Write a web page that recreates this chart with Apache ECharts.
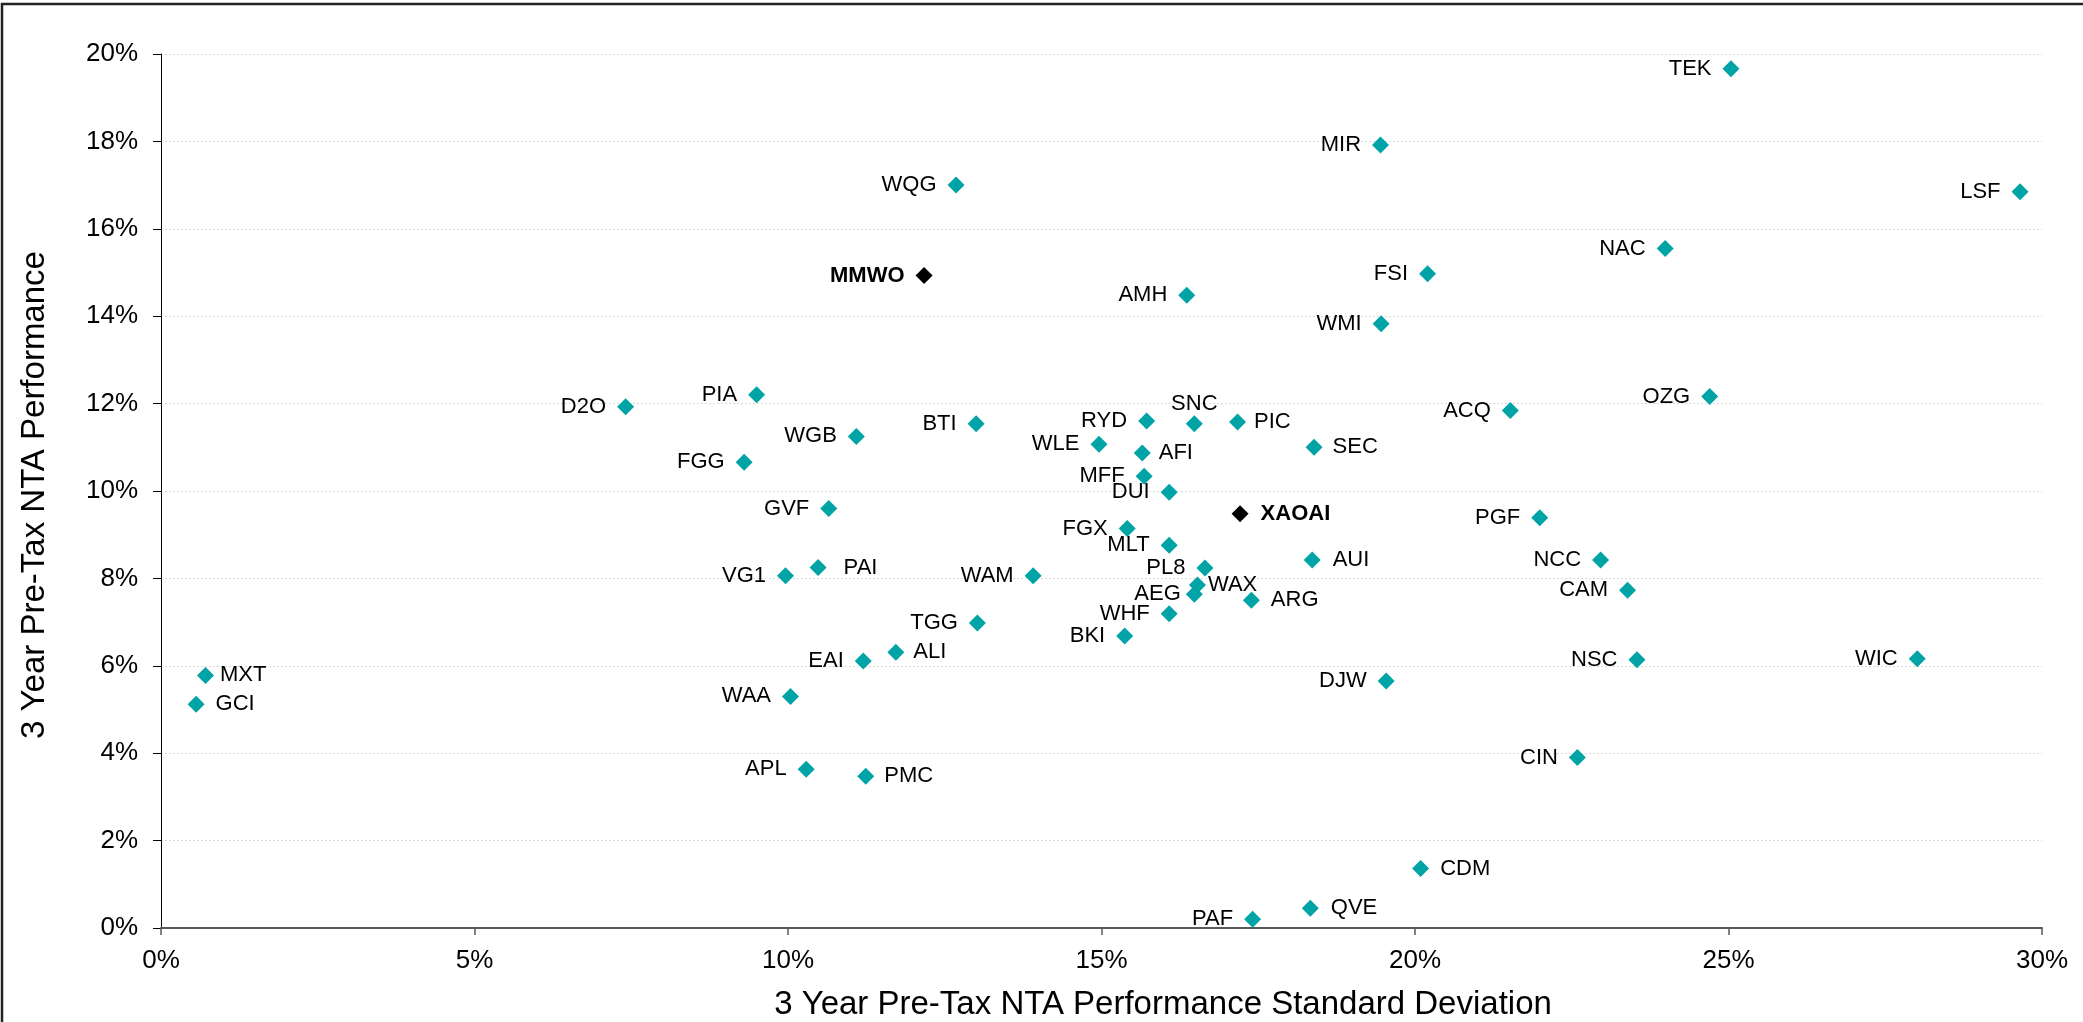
<!DOCTYPE html>
<html>
<head>
<meta charset="utf-8">
<script src="https://cdn.jsdelivr.net/npm/echarts@6/dist/echarts.min.js"></script>
<style>
html,body{margin:0;padding:0;background:#fff;}
#chart{width:2083px;height:1022px;}
</style>
</head>
<body>
<div id="chart"></div>
<script>
// ---- Data ----
const names = ['TEK','MIR','LSF','WQG','NAC','FSI','MMWO','AMH','WMI','OZG','PIA','D2O','ACQ','RYD','PIC','BTI','SNC','WGB','WLE','SEC','AFI','FGG','MFF','DUI','GVF','XAOAI','PGF','FGX','MLT','AUI','NCC','PAI','PL8','VG1','WAM','WAX','CAM','AEG','ARG','WHF','TGG','BKI','ALI','WIC','NSC','EAI','MXT','DJW','WAA','GCI','CIN','APL','PMC','CDM','QVE','PAF'];
const stdDev = [25.04,19.45,29.65,12.68,23.99,20.20,12.17,16.36,19.46,24.70,9.50,7.41,21.52,15.72,17.17,13.00,16.48,11.09,14.96,18.39,15.65,9.30,15.68,16.08,10.65,17.21,21.99,15.41,16.08,18.36,22.96,10.48,16.65,9.96,13.91,16.53,23.39,16.48,17.39,16.08,13.02,15.37,11.72,28.01,23.54,11.20,0.71,19.54,10.04,0.56,22.59,10.29,11.24,20.09,18.33,17.41];
const performance = [19.66,17.92,16.85,17.00,15.55,14.97,14.93,14.48,13.83,12.16,12.20,11.93,11.84,11.60,11.58,11.54,11.54,11.25,11.07,11.00,10.87,10.66,10.34,9.97,9.60,9.48,9.39,9.14,8.76,8.42,8.42,8.25,8.24,8.06,8.06,7.85,7.73,7.64,7.50,7.19,6.98,6.68,6.31,6.16,6.14,6.11,5.78,5.65,5.30,5.12,3.90,3.63,3.47,1.36,0.45,0.20];
const highlighted = ['MMWO','XAOAI'];
const xTicks = [0,5,10,15,20,25,30];
const yTicks = [0,2,4,6,8,10,12,14,16,18,20];
const xTitle = '3 Year Pre-Tax NTA Performance Standard Deviation';
const yTitle = '3 Year Pre-Tax NTA Performance';

// ---- Label placement (styling) ----
const rightLabels = {MXT:6, GCI:11, PAI:17, ALI:9, PMC:10, AFI:8, PIC:8, SEC:10, XAOAI:12, AUI:12, ARG:11, WAX:2, CDM:11, QVE:12};
const topLabels = {SNC:0};
const labelOffsets = {DUI:[0,8], AEG:[0,-6], WAX:[0,2], PAF:[0,-3], GCI:[0,2]};
const leftDist = {AEG:5};

const FONT = "'Liberation Sans', Arial, sans-serif";
const TEAL = '#00A3A6';

const seriesData = names.map((n, i) => {
  const hi = highlighted.includes(n);
  let position = 'left', distance = leftDist[n] !== undefined ? leftDist[n] : 11;
  if (rightLabels[n] !== undefined) { position = 'right'; distance = rightLabels[n]; }
  if (topLabels[n] !== undefined) { position = 'top'; distance = topLabels[n]; }
  return {
    name: n,
    value: [stdDev[i], performance[i]],
    itemStyle: { color: hi ? '#000000' : TEAL, opacity: 1 },
    label: {
      show: true,
      formatter: n,
      position: position,
      distance: distance,
      offset: labelOffsets[n] || [0, 1],
      fontWeight: hi ? 'bold' : 'normal',
      color: '#000',
      fontSize: 22,
      fontFamily: FONT
    }
  };
});

const chart = echarts.init(document.getElementById('chart'), null, {renderer: 'canvas'});
chart.setOption({
  animation: false,
  backgroundColor: '#fff',
  grid: { left: 161, right: 41, top: 54, bottom: 94, containLabel: false },
  xAxis: {
    type: 'value', min: xTicks[0], max: xTicks[xTicks.length-1], interval: 5,
    axisLine: { show: true, onZero: false, lineStyle: { color: '#595959', width: 2 } },
    axisTick: { show: true, length: 7, lineStyle: { color: '#595959', width: 1.5 } },
    splitLine: { show: false },
    axisLabel: { formatter: v => v + '%', color: '#000', fontSize: 26, fontFamily: FONT, margin: 20 }
  },
  yAxis: {
    type: 'value', min: yTicks[0], max: yTicks[yTicks.length-1], interval: 2,
    axisLine: { show: true, onZero: false, lineStyle: { color: '#000', width: 1 } },
    axisTick: { show: true, length: 8, lineStyle: { color: '#000', width: 1 } },
    splitLine: { show: true, lineStyle: { color: '#d9d9d9', width: 1, type: [2, 2] } },
    axisLabel: { formatter: v => v + '%', color: '#000', fontSize: 26, fontFamily: FONT, margin: 23 }
  },
  series: [{
    type: 'scatter',
    symbol: 'diamond',
    symbolSize: 17,
    itemStyle: { opacity: 1 },
    data: seriesData,
    labelLayout: { hideOverlap: false },
    emphasis: { disabled: true }
  }],
  graphic: [
    { type: 'rect', silent: true, z: 100,
      shape: { x: 2, y: 4, width: 2200, height: 1200 },
      style: { fill: 'none', stroke: '#222', lineWidth: 2.5 } },
    { type: 'text', silent: true, x: 1163, y: 1005,
      style: { text: xTitle, font: '33px ' + FONT, fill: '#000', textAlign: 'center', textVerticalAlign: 'middle' } },
    { type: 'text', silent: true, x: 35, y: 495, rotation: Math.PI / 2,
      style: { text: yTitle, font: '33px ' + FONT, fill: '#000', textAlign: 'center', textVerticalAlign: 'middle' } }
  ]
});
</script>
</body>
</html>
